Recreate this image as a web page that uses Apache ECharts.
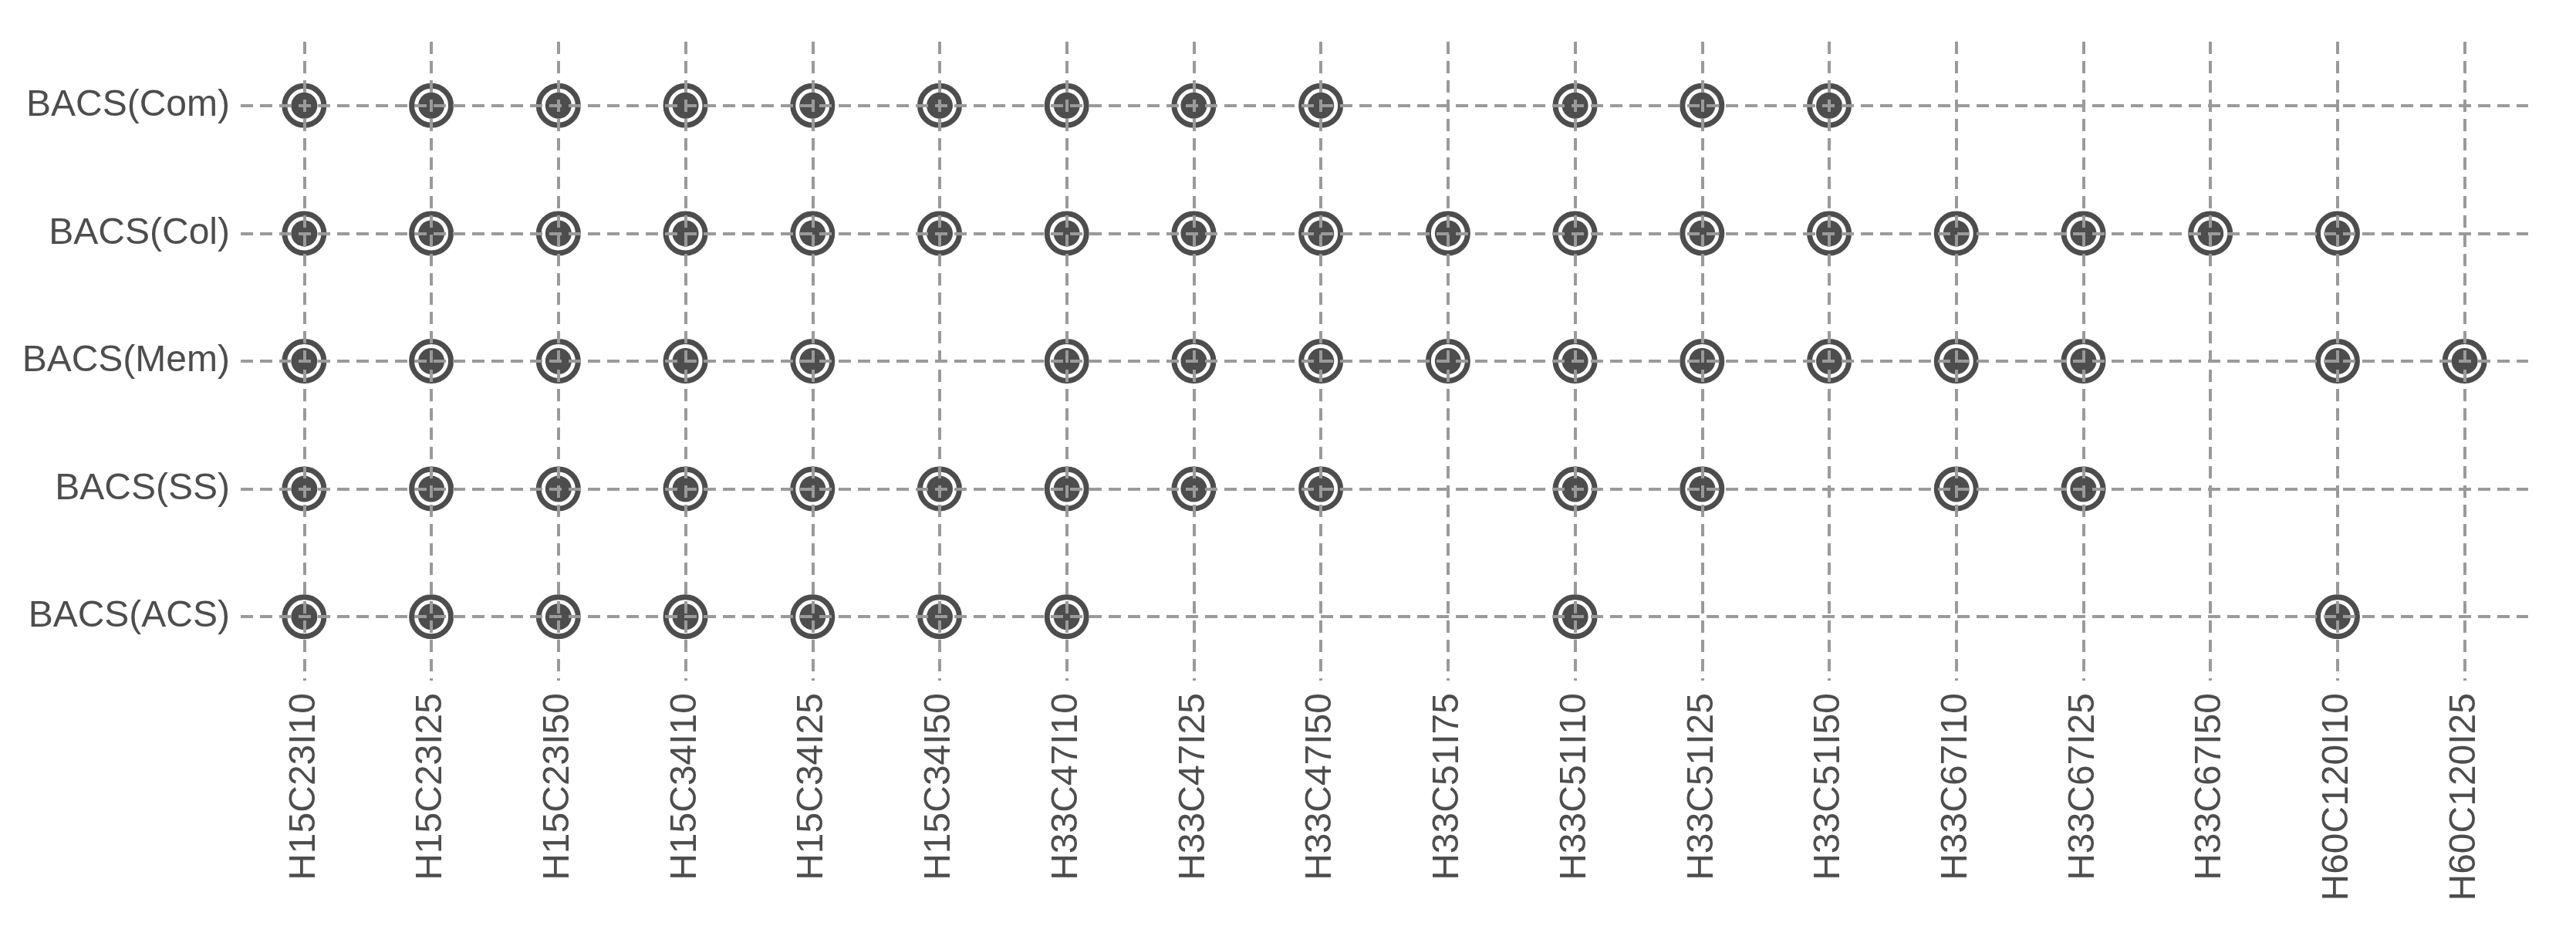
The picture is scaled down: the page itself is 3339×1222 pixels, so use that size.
<!DOCTYPE html>
<html>
<head>
<meta charset="utf-8">
<script src="https://cdn.jsdelivr.net/npm/echarts@6/dist/echarts.min.js"></script>
<style>
  html, body { margin: 0; padding: 0; background: #fff; }
  #chart { width: 3339px; height: 1222px; }
</style>
</head>
<body>
<div id="chart"></div>
<script>
// configurations on the x axis
const configs = ['H15C23I10', 'H15C23I25', 'H15C23I50', 'H15C34I10', 'H15C34I25', 'H15C34I50',
  'H33C47I10', 'H33C47I25', 'H33C47I50', 'H33C51I75', 'H33C51I10', 'H33C51I25', 'H33C51I50',
  'H33C67I10', 'H33C67I25', 'H33C67I50', 'H60C120I10', 'H60C120I25']
// methods, bottom to top
const methods = ['BACS(ACS)', 'BACS(SS)', 'BACS(Mem)', 'BACS(Col)', 'BACS(Com)']

// which configs each method has a result for
const acsRuns = ['H15C23I10', 'H15C23I25', 'H15C23I50', 'H15C34I10', 'H15C34I25', 'H15C34I50',
  'H33C47I10', 'H33C51I10', 'H60C120I10']
const ssRuns = ['H15C23I10', 'H15C23I25', 'H15C23I50', 'H15C34I10', 'H15C34I25', 'H15C34I50',
  'H33C47I10', 'H33C47I25', 'H33C47I50', 'H33C51I10', 'H33C51I25', 'H33C67I10', 'H33C67I25']
const memRuns = ['H15C23I10', 'H15C23I25', 'H15C23I50', 'H15C34I10', 'H15C34I25',
  'H33C47I10', 'H33C47I25', 'H33C47I50', 'H33C51I75', 'H33C51I10', 'H33C51I25', 'H33C51I50',
  'H33C67I10', 'H33C67I25', 'H60C120I10', 'H60C120I25']
const colRuns = ['H15C23I10', 'H15C23I25', 'H15C23I50', 'H15C34I10', 'H15C34I25', 'H15C34I50',
  'H33C47I10', 'H33C47I25', 'H33C47I50', 'H33C51I75', 'H33C51I10', 'H33C51I25', 'H33C51I50',
  'H33C67I10', 'H33C67I25', 'H33C67I50', 'H60C120I10']
const comRuns = ['H15C23I10', 'H15C23I25', 'H15C23I50', 'H15C34I10', 'H15C34I25', 'H15C34I50',
  'H33C47I10', 'H33C47I25', 'H33C47I50', 'H33C51I10', 'H33C51I25', 'H33C51I50']

const runsByMethod = [acsRuns, ssRuns, memRuns, colRuns, comRuns]
const points = []
runsByMethod.forEach((runs, i) => {
  runs.forEach(c => points.push([c, methods[i]]))
})

const ink = '#4d4d4d'
const gridLine = {
  show: true,
  alignWithLabel: true,
  lineStyle: { color: '#9a9a9a', width: 4, type: [16, 9] }
}

const chart = echarts.init(document.getElementById('chart'))
chart.setOption({
  animation: false,
  grid: { left: 312, right: 62, top: 54, bottom: 340 },
  xAxis: {
    type: 'category',
    data: configs,
    z: 10,
    axisLine: { show: false },
    axisTick: { show: false, alignWithLabel: true },
    axisLabel: {
      rotate: 90,
      margin: 16,
      color: ink,
      fontSize: 48,
      fontFamily: 'Liberation Sans'
    },
    splitLine: gridLine
  },
  yAxis: {
    type: 'category',
    data: methods,
    z: 10,
    axisLine: { show: false },
    axisTick: { show: false, alignWithLabel: true },
    axisLabel: {
      margin: 14,
      color: ink,
      fontSize: 48,
      fontFamily: 'Liberation Sans'
    },
    splitLine: gridLine
  },
  series: [
    {
      type: 'scatter',
      data: points,
      symbol: 'circle',
      symbolSize: 51,
      itemStyle: { color: 'rgba(0,0,0,0)', borderColor: ink, borderWidth: 7, opacity: 1 }
    },
    {
      type: 'scatter',
      data: points,
      symbol: 'circle',
      symbolSize: 34,
      itemStyle: { color: ink, opacity: 1 }
    }
  ]
})
</script>
</body>
</html>
